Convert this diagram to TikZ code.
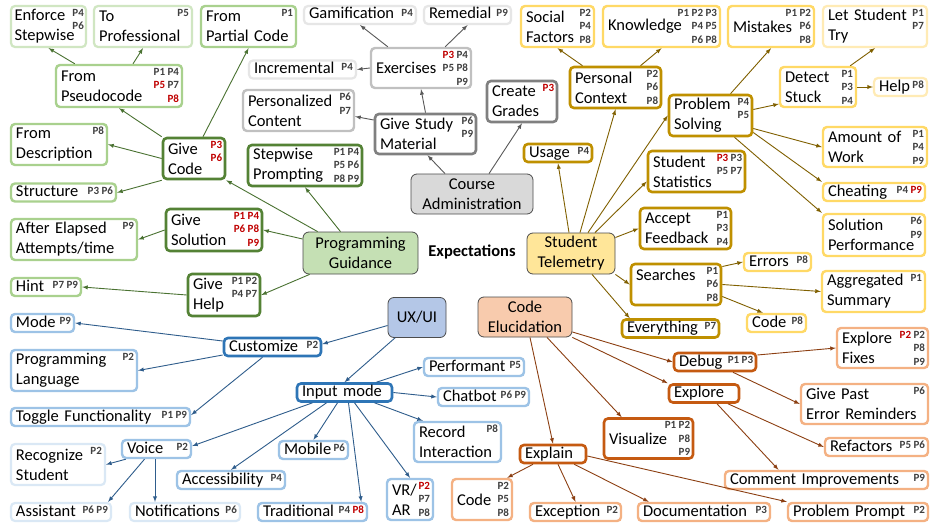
\documentclass[tikz,border=0pt]{standalone}
\usepackage{fontspec}
\setmainfont{Carlito}
\usetikzlibrary{arrows}
\definecolor{gDk}{HTML}{548235}
\definecolor{gMd}{HTML}{A9D18E}
\definecolor{gLt}{HTML}{D0E6C2}
\definecolor{gFl}{HTML}{C5E0B4}
\definecolor{gLn}{HTML}{4A7232}
\definecolor{kDk}{HTML}{808080}
\definecolor{kMd}{HTML}{C0C0C0}
\definecolor{kLt}{HTML}{E6E6E6}
\definecolor{kFl}{HTML}{D9D9D9}
\definecolor{kLn}{HTML}{595959}
\definecolor{yDk}{HTML}{BF9000}
\definecolor{yMd}{HTML}{FFD966}
\definecolor{yLt}{HTML}{FFEBB5}
\definecolor{yFl}{HTML}{FFE699}
\definecolor{yLn}{HTML}{806000}
\definecolor{bDk}{HTML}{2E75B6}
\definecolor{bMd}{HTML}{9DC3E6}
\definecolor{bLt}{HTML}{DAE8F5}
\definecolor{bFl}{HTML}{B4C7E7}
\definecolor{bLn}{HTML}{2F5D8C}
\definecolor{oDk}{HTML}{C55A11}
\definecolor{oMd}{HTML}{F4B183}
\definecolor{oFl}{HTML}{F8CBAD}
\definecolor{oLn}{HTML}{8C3F12}
\definecolor{pRed}{HTML}{C00000}
\newcommand{\redp}[1]{\textcolor{pRed}{#1}}
\tikzstyle{box} = [rectangle, rounded corners=4pt, fill=white, text=black, inner xsep=5pt, inner ysep=2pt, align=left]
\tikzstyle{one} = [text height=12pt, text depth=4pt, inner ysep=1pt]
\tikzstyle{root} = [rectangle, rounded corners=6pt, draw=black!70, line width=0.8pt, align=center, inner sep=2pt]
\tikzstyle{gA} = [box, draw=gDk, line width=2.6pt]
\tikzstyle{gB} = [box, draw=gMd, line width=2.4pt]
\tikzstyle{gC} = [box, draw=gLt, line width=2.2pt]
\tikzstyle{kA} = [box, draw=kDk, line width=2.6pt]
\tikzstyle{kB} = [box, draw=kMd, line width=2.4pt]
\tikzstyle{kC} = [box, draw=kLt, line width=2.2pt]
\tikzstyle{yA} = [box, draw=yDk, line width=2.6pt]
\tikzstyle{yB} = [box, draw=yMd, line width=2.4pt]
\tikzstyle{yC} = [box, draw=yLt, line width=2.2pt]
\tikzstyle{bA} = [box, draw=bDk, line width=2.6pt]
\tikzstyle{bB} = [box, draw=bMd, line width=2.4pt]
\tikzstyle{bC} = [box, draw=bLt, line width=2.2pt]
\tikzstyle{oA} = [box, draw=oDk, line width=2.6pt]
\tikzstyle{oB} = [box, draw=oMd, line width=2.4pt]
\tikzstyle{lg} = [->, >=latex, line width=0.9pt, draw=gLn]
\tikzstyle{lk} = [->, >=latex, line width=0.9pt, draw=kLn]
\tikzstyle{ly} = [->, >=latex, line width=0.9pt, draw=yLn]
\tikzstyle{lb} = [->, >=latex, line width=0.9pt, draw=bLn]
\tikzstyle{lo} = [->, >=latex, line width=0.9pt, draw=oLn]
\tikzset{
  sz/.style 2 args={text width=#1pt, minimum height=#2pt},
  tw/.style={text width=#1pt},
  pl/.style={anchor=north east, xshift=-3.5pt, yshift=-3.5pt, inner sep=0.5pt, align=right,
    text=black!75, font=\fontsize{11}{13.5}\selectfont\bfseries}
}

\begin{document}
\begin{tikzpicture}[x=1pt, y=-1pt, every node/.style={font=\fontsize{16.5}{20}\selectfont}]
  \fill[white] (0,0) rectangle (934,527);
  \useasboundingbox (0,0) rectangle (934,527);

  \node[font=\fontsize{16.5}{20}\selectfont\bfseries] (expect) at (472,252) {Expectations};

  % programming guidance
  \node[root, fill=gFl, minimum width=115pt, minimum height=42pt] (guide) at (360.5,253) {Programming\\Guidance};
  \node[gA, sz={52}{41}, label={[pl]north east:\redp{P3}\\\redp{P6}}] (gcode) at (194,158.5) {Give\\Code};
  \node[gA, sz={104}{41}, label={[pl]north east:P1 P4\\P5 P6\\P8 P9}] (stepp) at (305,165.5) {Stepwise\\Prompting};
  \node[gA, sz={86}{42}, label={[pl]north east:\redp{P1 P4}\\\redp{P6 P8}\\\redp{P9}}] (gsol) at (214,230) {Give\\Solution};
  \node[gA, sz={62}{42}, label={[pl]north east:P1 P2\\P4 P7}] (ghelp) at (224,295) {Give\\Help};
  \node[gB, sz={116}{42}, label={[pl]north east:P1 P4\\\redp{P5} P7\\\redp{P8}}] (pseudo) at (119,86) {From\\Pseudocode};
  \node[gB, sz={85}{41}, label={[pl]north east:P1}] (partial) at (248.5,26.5) {From\\Partial Code};
  \node[gB, sz={86}{41}, label={[pl]north east:P8}] (descr) at (59,144.5) {From\\Description};
  \node[gB, one, tw=95, label={[pl]north east:P3 P6}] (struct) at (63.5,192.5) {Structure};
  \node[gB, sz={116}{41}, label={[pl]north east:P9}] (elapsed) at (74,239.5) {After Elapsed\\Attempts/time};
  \node[gB, one, tw=60, label={[pl]north east:P7 P9}] (hint) at (46,287) {Hint};
  \node[gC, inner xsep=3.5pt, sz={68}{41}, label={[pl, xshift=1pt]north east:P4\\P6}] (enforce) at (48.5,26.5) {Enforce\\Stepwise};
  \node[gC, sz={88}{41}, label={[pl]north east:P5}] (toprof) at (143,26.5) {To\\Professional};

  % course administration
  \node[root, fill=kFl, minimum width=122pt, minimum height=40pt] (course) at (472,194) {Course\\Administration};
  \node[kA, sz={91}{40}, label={[pl]north east:P6\\P9}] (study) at (425.5,134) {Give Study\\Material};
  \node[kA, sz={60}{41}, label={[pl]north east:\redp{P3}}] (grades) at (522,101.5) {Create\\Grades};
  \node[kB, sz={90}{40}, label={[pl]north east:\redp{P3} P4\\P5 P8\\P9}] (exer) at (421,68) {Exercises};
  \node[kB, sz={101}{41}, label={[pl]north east:P6\\P7}] (perscont) at (298.5,110.5) {Personalized\\Content};
  \node[kC, one, tw=97, label={[pl]north east:P4}] (increm) at (302.5,69.5) {Incremental};
  \node[kC, one, tw=102, label={[pl]north east:P4}] (gamif) at (360,15) {Gamification};
  \node[kC, one, tw=77, label={[pl]north east:P9}] (remed) at (467.5,15) {Remedial};

  % student telemetry
  \node[root, fill=yFl, minimum width=88pt, minimum height=41pt] (telem) at (571,253.5) {Student\\Telemetry};
  \node[yA, one, tw=58, label={[pl]north east:P4}] (usage) at (558,153) {Usage};
  \node[yA, sz={81}{41}, label={[pl]north east:P2\\P6\\P8}] (perscon) at (615.5,87.5) {Personal\\Context};
  \node[yA, sz={73}{41}, label={[pl]north east:P4\\P5}] (probsolv) at (710.5,115.5) {Problem\\Solving};
  \node[yA, sz={87}{41}, label={[pl]north east:\redp{P3} P3\\P5 P7}] (stustat) at (696.5,171.5) {Student\\Statistics};
  \node[yA, sz={81}{41}, label={[pl]north east:P1\\P3\\P4}] (feedb) at (685.5,228.5) {Accept\\Feedback};
  \node[yA, sz={80}{41}, label={[pl]north east:P1\\P6\\P8}] (search) at (676,284.5) {Searches\\\mbox{}};
  \node[yA, one, tw=87, label={[pl]north east:P7}] (everyt) at (670.5,328.5) {Everything};
  \node[yB, sz={63}{41}, label={[pl]north east:P2\\P4\\P8}] (social) at (557.5,26.5) {Social\\Factors};
  \node[yB, sz={107}{41}, label={[pl]north east:P1 P2 P3\\P4 P5\\P6 P8}] (knowl) at (661.5,26.5) {Knowledge};
  \node[yB, sz={76}{41}, label={[pl]north east:P1 P2\\P6\\P8}] (mistk) at (771,26.5) {Mistakes};
  \node[yC, sz={94}{41}, label={[pl]north east:P1\\P7}] (letry) at (875,26.5) {Let Student\\Try};
  \node[yB, sz={66}{40}, label={[pl]north east:P1\\P3\\P4}] (stuck) at (818,87) {Detect\\Stuck};
  \node[yC, one, tw=43, label={[pl]north east:P8}] (help) at (900.5,87) {Help};
  \node[yB, sz={94}{40}, label={[pl]north east:P1\\P4\\P9}] (amount) at (875,147) {Amount of\\Work};
  \node[yB, one, tw=92, label={[pl]north east:P4 \redp{P9}}] (cheat) at (874,192) {Cheating};
  \node[yB, sz={92}{42}, label={[pl]north east:P6\\P9}] (solperf) at (874,235) {Solution\\Performance};
  \node[yB, one, tw=57, label={[pl]north east:P8}] (errors) at (777.5,262) {Errors};
  \node[yB, sz={93}{41}, label={[pl]north east:P1}] (aggsum) at (873.5,291.5) {Aggregated\\Summary};
  \node[yB, one, tw=49, label={[pl]north east:P8}] (scode) at (776.5,323) {Code};

  % ux/ui
  \node[root, fill=bFl, minimum width=58pt, minimum height=40pt] (uxui) at (417,317.5) {UX/UI};
  \node[bA, one, tw=87, label={[pl]north east:P2}] (custom) at (272.5,347) {Customize};
  \node[bA, one, tw=85] (input) at (344.5,392.5) {Input mode};
  \node[bB, one, tw=53, label={[pl]north east:P9}] (mode) at (42.5,323) {Mode};
  \node[bB, sz={116}{41}, label={[pl]north east:P2}] (proglang) at (74,370.5) {Programming\\Language};
  \node[bB, one, tw=169, label={[pl]north east:P1 P9}] (toggle) at (100.5,417) {Toggle Functionality};
  \node[bB, one, tw=59, label={[pl]north east:P2}] (voice) at (156.5,449) {Voice};
  \node[bB, one, tw=59, label={[pl]north east:P6}] (mobile) at (313.5,450) {Mobile};
  \node[bB, one, tw=98, label={[pl]north east:P4}] (access) at (231,480) {Accessibility};
  \node[bB, one, tw=99, label={[pl]north east:P4 \redp{P8}}] (tradit) at (312.5,512) {Traditional};
  \node[bB, sz={36}{41}, label={[pl]north east:\redp{P2}\\P7\\P8}] (vrar) at (410,499.5) {VR/\\AR};
  \node[bB, sz={77}{40}, label={[pl]north east:P8}] (record) at (457.5,442) {Record\\Interaction};
  \node[bB, one, tw=90, label={[pl]north east:P5}] (perform) at (474,367) {Performant};
  \node[bB, one, tw=81, label={[pl]north east:P6 P9}] (chatbot) at (483.5,397) {Chatbot};
  \node[bC, sz={84}{41}, label={[pl]north east:P2}] (recog) at (58,464.5) {Recognize\\Student};
  \node[bC, one, tw=90, label={[pl]north east:P6 P9}] (assist) at (61,512) {Assistant};
  \node[bC, one, tw=100, label={[pl]north east:P6}] (notif) at (185,512) {Notifications};

  % code elucidation
  \node[root, fill=oFl, minimum width=94pt, minimum height=40pt] (elucid) at (525,317) {Code\\Elucidation};
  \node[oA, one, tw=72, label={[pl]north east:P1 P3}] (debug) at (715,362) {Debug};
  \node[oA, one, tw=60] (explore) at (704,393.5) {Explore};
  \node[oA, sz={79}{40}, label={[pl]north east:P1 P2\\P8\\P9}] (visual) at (648.5,438.5) {Visualize};
  \node[oA, one, tw=56] (explain) at (553,454) {Explain};
  \node[oB, sz={81}{40}, label={[pl]north east:\redp{P2} P2\\P8\\P9}] (fixes) at (882.5,348) {Explore\\Fixes};
  \node[oB, sz={117}{40}, label={[pl]north east:P6}] (pasterr) at (864.5,404) {Give Past\\Error Reminders};
  \node[oB, one, tw=93, label={[pl]north east:P5 P6}] (refact) at (876.5,447) {Refactors};
  \node[oB, one, tw=193, label={[pl]north east:P9}] (comment) at (826.5,480) {Comment Improvements};
  \node[oB, sz={50}{41}, label={[pl]north east:P2\\P5\\P8}] (ecode) at (482,499.5) {Code};
  \node[oB, one, tw=81, label={[pl]north east:P2}] (except) at (575.5,512) {Exception};
  \node[oB, one, tw=122, label={[pl]north east:P3}] (docu) at (704,512) {Documentation};
  \node[oB, one, tw=130, label={[pl]north east:P2}] (prompt) at (858,512) {Problem Prompt};

  % connectors
  \draw[lg] ([xshift=-20pt]guide.north) -- (stepp.south);
  \draw[lg] ([xshift=15pt]guide.north west) -- (gcode.south east);
  \draw[lg] ([yshift=14pt]guide.west) -- (gsol.east);
  \draw[lg] ([xshift=7pt]guide.south west) -- (ghelp.east);
  \draw[lg] (gcode.north west) -- (pseudo.south);
  \draw[lg] (gcode.west) -- (descr.east);
  \draw[lg] ([xshift=9pt]gcode.north) -- (partial.south);
  \draw[lg] (gcode.south west) -- (struct.east);
  \draw[lg] ([xshift=20pt]pseudo.north west) -- (enforce.south);
  \draw[lg] ([xshift=14pt]pseudo.north) -- (toprof.south);
  \draw[lg] (gsol.west) -- (elapsed.east);
  \draw[lg] (ghelp.west) -- (hint.east);

  \draw[lk] ([xshift=-27pt]course.north) -- ([xshift=2pt]study.south);
  \draw[lk] ([xshift=17pt]course.north) -- (grades.south);
  \draw[lk] (study.north) -- (exer.south);
  \draw[lk] ([yshift=14pt]study.west) -- ([yshift=-6pt]perscont.east);
  \draw[lk] ([xshift=18pt]exer.north west) -- (gamif.south);
  \draw[lk] ([xshift=-27pt]exer.north east) -- (remed.south);
  \draw[lk] (exer.west) -- (increm.east);

  \draw[ly] ([xshift=-2pt]telem.north) -- (usage.south);
  \draw[ly] ([xshift=9pt]telem.north) -- (perscon.south);
  \draw[ly] ([xshift=17pt]telem.north) -- (probsolv.west);
  \draw[ly] ([xshift=24pt]telem.north) -- ([yshift=-10pt]stustat.west);
  \draw[ly] ([yshift=16pt]telem.east) -- (feedb.west);
  \draw[ly] (telem.south east) -- (search.west);
  \draw[ly] ([xshift=21pt]telem.south) -- ([xshift=9pt]everyt.north west);
  \draw[ly] ([xshift=-33pt]perscon.north) -- (social.south);
  \draw[ly] ([xshift=25pt]perscon.north) -- (knowl.south);
  \draw[ly] ([xshift=20pt]probsolv.north) -- (mistk.south);
  \draw[ly] ([yshift=6pt]probsolv.east) -- ([yshift=-17pt]stuck.west);
  \draw[ly] ([yshift=-13pt]probsolv.east) -- (amount.west);
  \draw[ly] ([yshift=-17pt]probsolv.east) -- (cheat.north west);
  \draw[ly] ([xshift=24pt]probsolv.south) -- (solperf.north west);
  \draw[ly] ([xshift=-7pt]stuck.north east) -- (letry.south);
  \draw[ly] (stuck.east) -- (help.west);
  \draw[ly] ([yshift=18pt]search.east) -- (errors.west);
  \draw[ly] (search.east) -- (aggsum.west);
  \draw[ly] ([yshift=-12pt]search.east) -- ([xshift=17pt]scode.north west);

  \draw[lb] ([yshift=-8pt]uxui.west) -- ([yshift=3pt]custom.east);
  \draw[lb] ([xshift=-22pt]uxui.south) -- (input.north);
  \draw[lb] ([yshift=6pt]custom.west) -- (mode.east);
  \draw[lb] ([yshift=-8pt]custom.west) -- (proglang.east);
  \draw[lb] ([xshift=-10pt]custom.south) -- ([yshift=2pt]toggle.east);
  \draw[lb] ([xshift=32pt]input.north) -- (perform.west);
  \draw[lb] (input.east) -- (chatbot.west);
  \draw[lb] ([xshift=30pt]input.south) -- ([xshift=10pt]record.north west);
  \draw[lb] ([xshift=10pt]input.south) -- (vrar.north);
  \draw[lb] ([xshift=4pt]input.south) -- ([xshift=-7pt]tradit.north east);
  \draw[lb] ([xshift=-7pt]input.south) -- (mobile.north);
  \draw[lb] ([xshift=-18pt]input.south) -- (access.north);
  \draw[lb] ([xshift=-32pt]input.south) -- ([yshift=3pt]voice.east);
  \draw[lb] ([xshift=5pt]voice.south west) -- (recog.east);
  \draw[lb] ([xshift=-12pt]voice.south) -- ([xshift=-4pt]assist.north east);
  \draw[lb] ([xshift=-1.5pt]voice.south) -- ([xshift=-30pt]notif.north);

  \draw[lo] ([yshift=-15pt]elucid.east) -- (debug.west);
  \draw[lo] (elucid.south east) -- (explore.north west);
  \draw[lo] ([xshift=22pt]elucid.south) -- ([xshift=19pt]visual.north west);
  \draw[lo] ([xshift=5pt]elucid.south) -- (explain.north);
  \draw[lo] ([yshift=7pt]debug.east) -- (fixes.west);
  \draw[lo] ([xshift=18pt]debug.south) -- (pasterr.west);
  \draw[lo] ([xshift=24pt]explore.south) -- (refact.west);
  \draw[lo] ([xshift=13pt]explore.south) -- ([xshift=-48pt]comment.north);
  \draw[lo] ([xshift=-20pt]explain.south) -- ([xshift=-6pt]ecode.north east);
  \draw[lo] ([xshift=5pt]explain.south) -- (except.north);
  \draw[lo] ([xshift=-13pt]explain.south east) -- ([xshift=12pt]docu.north west);
  \draw[lo] ([yshift=-2pt]explain.east) -- (prompt.north west);
\end{tikzpicture}
\end{document}
